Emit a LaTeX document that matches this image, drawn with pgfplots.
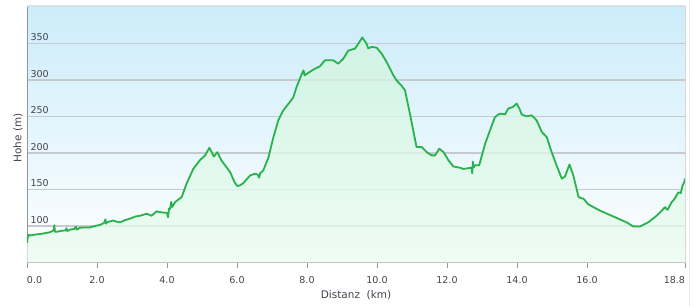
\documentclass[border=0pt]{standalone}
\usepackage{pgfplots}
\usepackage{pgfplotstable}
\pgfplotsset{compat=1.18}
\usepackage{fontspec}
\setmainfont{DejaVu Sans}
\definecolor{lineg}{RGB}{40,178,76}
\definecolor{bgtop}{RGB}{204,236,250}
\definecolor{fillt}{RGB}{208,245,222}
\definecolor{fillb}{RGB}{234,252,240}
\definecolor{txt}{RGB}{68,68,78}
\definecolor{gridc}{RGB}{198,202,206}
\definecolor{axc}{RGB}{150,150,150}
\pgfplotstableread{
km elev
0.00 77
0.02 84
0.05 88
0.09 87
0.20 88
0.37 89
0.50 90
0.66 91.5
0.76 94
0.78 101
0.80 92
0.85 92
0.94 93
1.10 94
1.13 97
1.15 93
1.23 95
1.35 96
1.40 99
1.42 95
1.51 97.5
1.65 98
1.80 98
1.95 100
2.09 101.6
2.20 104
2.24 109
2.26 103
2.28 105
2.47 107.5
2.55 106
2.66 105
2.80 108
2.94 110
3.10 113
3.23 114
3.42 116.7
3.56 114
3.70 120
3.80 119
3.94 118
4.00 118
4.03 112
4.06 124
4.09 123.5
4.12 133
4.15 126
4.23 132.6
4.42 139.5
4.56 158
4.75 178
4.94 190
5.09 196.6
5.21 207
5.34 195
5.44 201
5.55 190
5.66 183
5.80 174
5.93 160
6.01 154.5
6.10 156
6.18 158.6
6.37 169
6.51 171.5
6.60 170
6.63 166
6.66 172
6.75 176
6.90 194
7.04 221.6
7.18 244.5
7.32 258
7.51 269.6
7.61 276
7.70 290
7.85 308
7.90 313
7.93 306
7.99 308
8.18 314
8.37 318.5
8.51 326.7
8.75 326.7
8.89 322
9.04 329
9.18 340
9.37 342.7
9.47 349.6
9.58 358
9.70 349.6
9.75 343
9.85 345
9.99 344
10.13 336
10.28 324
10.47 306
10.56 299
10.70 292
10.80 285.6
10.94 253.7
11.13 208
11.28 208
11.42 201
11.56 196.6
11.66 196.6
11.78 205.7
11.90 201
12.04 190
12.18 181.5
12.37 179.7
12.47 178
12.60 179
12.70 179.7
12.72 172
12.74 188
12.76 180
12.80 183
12.92 183
13.09 212.6
13.23 231
13.37 249
13.51 253.7
13.66 252.7
13.75 260.6
13.88 262.8
13.99 267.4
14.07 260.6
14.13 252.7
14.28 250
14.42 251.4
14.56 244.5
14.71 228.5
14.85 221.6
14.99 201
15.13 183
15.28 164.7
15.37 167.8
15.50 184.2
15.61 169
15.76 139.5
15.90 137.2
16.04 129.5
16.37 121
16.75 113
17.13 105
17.32 99.3
17.51 99.3
17.75 105
17.99 114
18.23 125.7
18.30 122
18.42 132.6
18.50 137
18.61 146
18.68 145
18.73 155.5
18.78 160
18.80 165
}\elev
\begin{document}
\begin{tikzpicture}
\useasboundingbox[fill=white] (-27bp,-43.5bp) rectangle (666bp,262.5bp);
\begin{axis}[
  at={(0,0)}, anchor=south west,
  scale only axis, width=658bp, height=256.5bp,
  xmin=0, xmax=18.8, ymin=50, ymax=401,
  axis x line*=bottom, axis y line*=left,
  axis line style={axc, line width=0.9bp, -},
  axis background/.style={shade, top color=bgtop, bottom color=white},
  xtick={0,2,4,6,8,10,12,14,16,18.8},
  xticklabels={\makebox[0pt][l]{0.0},2.0,4.0,6.0,8.0,10.0,12.0,14.0,16.0,\makebox[0pt][r]{18.8}},
  ytick={100,150,200,250,300,350},
  /pgf/number format/assume math mode=true,
  ymajorgrids,
  grid style={gridc, line width=1.4bp},
  tick align=outside,
  major tick length=5bp,
  xtick style={axc, line width=0.9bp},
  ytick style={draw=none},
  tick label style={font=\fontsize{9.5bp}{11bp}\selectfont, text=txt},
  xticklabel style={anchor=north, yshift=-5bp},
  yticklabel style={anchor=south west, xshift=5bp, yshift=-1bp},
  label style={font=\fontsize{10.5bp}{12bp}\selectfont, text=txt},
  xlabel={Distanz\ \ (km)},
  ylabel={Hohe (m)},
  xlabel style={at={(axis description cs:0.5,0)}, anchor=center, yshift=-33bp},
  ylabel style={at={(axis description cs:0,0.485)}, anchor=center, yshift=9bp},
]
\addplot[draw=none, top color=fillt, bottom color=fillb, fill opacity=0.75] table[x=km,y=elev] {\elev} \closedcycle;
\addplot[lineg, line width=1.8bp, line join=round] table[x=km,y=elev] {\elev};
\end{axis}
\draw[gray!30, line width=0.8bp] (0,256.5bp) -- (658bp,256.5bp) -- (658bp,0);
\draw[gray!18, line width=0.8bp] (662bp,-43.5bp) -- (662bp,262.5bp);
\end{tikzpicture}
\end{document}
